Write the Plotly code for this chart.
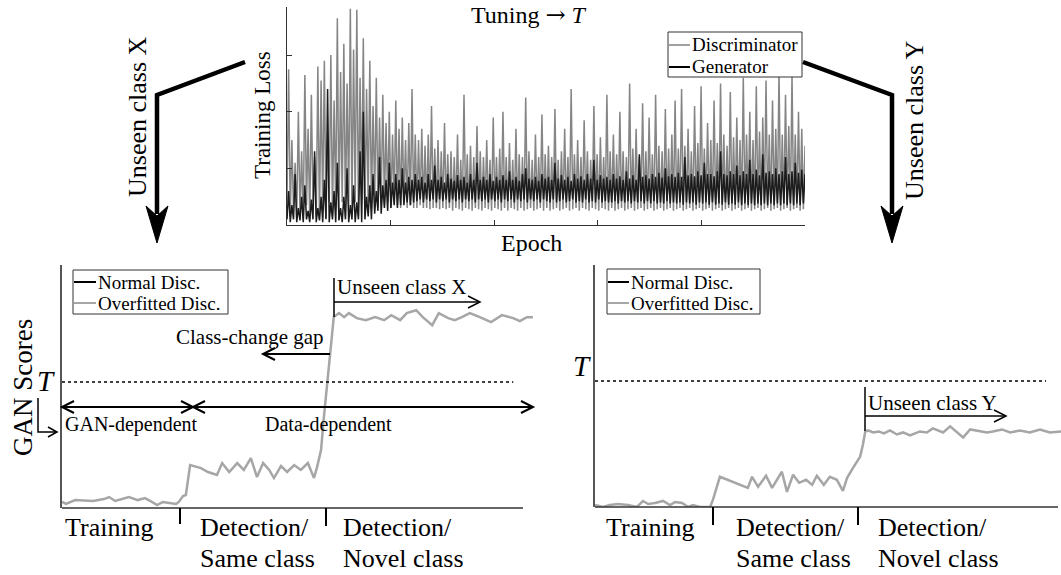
import numpy as np
import plotly.graph_objects as go

W, H = 1061, 575
FONT = "Liberation Serif, Times New Roman, serif"


def px(x):
    return x / W


def py(y):
    return 1 - y / H


# ---------------- data ----------------
# Training loss per logged step (discriminator / generator)
disc_loss = [
    0.4, 2.75, 0.15, 1.5, 0.3, 1.1, 0.12, 2.0, 0.2, 1.3, 0.1, 2.65, 0.35, 1.7, 0.12, 2.3, 0.4, 1.2, 0.15, 2.8,
    0.1, 2.55, 0.3, 2.9, 0.12, 1.6, 0.4, 3.0, 0.15, 2.2, 0.3, 3.65, 0.1, 2.7, 0.4, 3.2, 0.15, 2.5, 0.35, 3.82,
    0.2, 3.1, 0.4, 3.8, 0.15, 2.6, 0.45, 3.3, 0.2, 2.4, 0.4, 2.9, 0.3, 2.1, 0.45, 2.6, 0.3, 1.9, 0.4, 2.3,
    0.35, 1.8, 0.4, 2.0, 0.3, 1.6, 0.4, 2.2, 0.35, 1.7, 0.3, 1.9, 0.4, 1.5, 0.3, 1.8, 0.35, 2.4, 0.3, 1.6,
    0.3, 1.5, 0.35, 1.7, 0.3, 1.4, 0.3, 1.6, 0.28, 2.1, 0.3, 1.35, 0.3, 1.5, 0.28, 1.3, 0.3, 1.8, 0.28, 1.25,
    0.3, 1.3, 0.25, 1.2, 0.3, 1.6, 0.28, 1.15, 0.25, 2.3, 0.3, 1.25, 0.28, 1.4, 0.25, 1.2, 0.3, 1.75, 0.28, 1.3,
    0.25, 1.2, 0.3, 1.5, 0.28, 1.15, 0.25, 1.9, 0.3, 1.2, 0.28, 1.35, 0.25, 2.0, 0.3, 1.2, 0.25, 1.45, 0.3, 1.15,
    0.28, 1.7, 0.25, 1.25, 0.3, 1.2, 0.25, 2.25, 0.28, 1.3, 0.3, 1.15, 0.25, 1.6, 0.28, 1.2, 0.3, 1.95, 0.25, 1.25,
    0.3, 1.4, 0.25, 1.2, 0.28, 2.05, 0.3, 1.15, 0.25, 1.3, 0.28, 1.7, 0.3, 1.2, 0.25, 2.4, 0.28, 1.25, 0.3, 1.5,
    0.25, 1.2, 0.3, 1.85, 0.28, 1.3, 0.25, 1.15, 0.3, 2.1, 0.28, 1.25, 0.25, 1.55, 0.3, 1.2, 0.28, 2.3, 0.25, 1.3,
    0.3, 1.6, 0.25, 1.25, 0.28, 2.0, 0.3, 1.3, 0.25, 1.2, 0.28, 2.5, 0.3, 1.35, 0.25, 1.7, 0.28, 1.2, 0.3, 2.15,
    0.25, 1.3, 0.28, 1.9, 0.3, 1.25, 0.25, 2.3, 0.28, 1.4, 0.3, 1.3, 0.25, 2.05, 0.28, 1.35, 0.3, 1.6, 0.25, 2.2,
    0.28, 1.35, 0.3, 2.4, 0.25, 1.4, 0.28, 1.7, 0.3, 1.3, 0.25, 2.1, 0.28, 1.45, 0.3, 2.45, 0.25, 1.35, 0.28, 1.8,
    0.3, 1.5, 0.25, 2.2, 0.28, 1.45, 0.3, 2.5, 0.25, 1.6, 0.28, 1.4, 0.3, 2.35, 0.25, 1.55, 0.28, 1.9, 0.3, 1.5,
    0.25, 2.6, 0.28, 1.6, 0.3, 2.0, 0.25, 1.5, 0.28, 2.45, 0.3, 1.65, 0.25, 1.9, 0.28, 2.55, 0.3, 1.6, 0.25, 2.2,
    0.28, 1.7, 0.3, 2.7, 0.25, 1.6, 0.28, 2.3, 0.3, 1.75, 0.25, 2.65, 0.28, 1.6, 0.3, 2.0, 0.25, 1.7, 0.28, 1.4,
]
gen_loss = [
    0.1, 0.6, 0.05, 0.35, 0.1, 0.9, 0.05, 0.3, 0.08, 0.5, 0.05, 0.7, 0.1, 0.25, 0.05, 0.45, 0.1, 1.3, 0.05, 0.3,
    0.08, 0.5, 0.05, 0.8, 0.1, 2.4, 0.05, 0.4, 0.1, 0.6, 0.05, 1.1, 0.08, 0.3, 0.05, 0.5, 0.1, 1.0, 0.05, 0.35,
    0.1, 0.7, 0.05, 0.4, 0.1, 1.3, 0.05, 2.0, 0.1, 0.5, 0.15, 0.7, 0.1, 0.9, 0.2, 0.6, 0.25, 1.2, 0.2, 0.7,
    0.3, 0.8, 0.25, 1.1, 0.3, 0.75, 0.35, 0.9, 0.3, 0.8, 0.35, 1.0, 0.35, 0.75, 0.4, 0.85, 0.35, 0.8, 0.4, 0.9,
    0.42, 0.8, 0.45, 0.85, 0.4, 0.75, 0.45, 0.9, 0.42, 0.8, 0.45, 1.05, 0.4, 0.8, 0.45, 0.85, 0.42, 0.75, 0.45, 0.9,
    0.4, 0.82, 0.45, 0.78, 0.42, 0.88, 0.45, 0.8, 0.4, 0.85, 0.45, 0.75, 0.42, 0.9, 0.45, 0.8, 0.4, 1.1, 0.45, 0.8,
    0.42, 0.85, 0.45, 0.8, 0.4, 0.9, 0.45, 0.78, 0.42, 0.85, 0.45, 0.8, 0.4, 0.88, 0.45, 0.8, 0.42, 0.95, 0.45, 0.8,
    0.4, 0.85, 0.45, 0.78, 0.42, 0.9, 0.45, 1.0, 0.4, 0.82, 0.45, 0.8, 0.42, 0.85, 0.45, 0.78, 0.4, 0.9, 0.45, 0.82,
    0.42, 0.85, 0.4, 0.8, 0.45, 1.1, 0.4, 0.82, 0.42, 0.88, 0.45, 0.8, 0.4, 0.85, 0.42, 0.78, 0.45, 0.9, 0.4, 0.82,
    0.42, 0.86, 0.4, 0.8, 0.45, 0.9, 0.4, 0.82, 0.42, 1.15, 0.4, 0.8, 0.45, 0.88, 0.4, 0.82, 0.42, 0.85, 0.4, 0.8,
    0.4, 0.9, 0.42, 0.82, 0.38, 0.86, 0.42, 0.8, 0.4, 0.95, 0.42, 0.82, 0.38, 0.88, 0.42, 0.8, 0.4, 1.25, 0.42, 0.85,
    0.38, 0.88, 0.42, 0.82, 0.38, 0.9, 0.42, 0.85, 0.38, 0.92, 0.4, 0.84, 0.38, 1.0, 0.42, 0.86, 0.38, 0.9, 0.4, 0.85,
    0.38, 0.92, 0.4, 0.85, 0.36, 1.2, 0.4, 0.88, 0.38, 0.9, 0.4, 0.86, 0.36, 0.95, 0.4, 0.88, 0.38, 1.1, 0.4, 0.9,
    0.36, 0.9, 0.4, 0.86, 0.36, 0.95, 0.38, 1.3, 0.36, 0.9, 0.4, 0.88, 0.36, 0.95, 0.38, 0.9, 0.36, 1.05, 0.4, 0.88,
    0.35, 0.95, 0.38, 0.9, 0.35, 1.15, 0.38, 0.9, 0.35, 0.98, 0.38, 0.88, 0.35, 1.25, 0.38, 0.92, 0.35, 0.95, 0.38, 0.9,
    0.35, 1.0, 0.38, 0.9, 0.35, 0.95, 0.38, 1.2, 0.35, 0.9, 0.38, 0.95, 0.35, 1.1, 0.38, 0.92, 0.35, 0.98, 0.38, 0.9,
]
n_epochs = 5000
epochs = np.linspace(0, n_epochs, len(disc_loss))
loss_ticks = [1, 2, 3]
epoch_ticks = [1000, 2000, 3000, 4000, 5000]

# GAN scores of the overfitted discriminator, unseen class X
x_step = [0, 0.85, 2.8, 6.6, 8.9, 10.0, 11.3, 13.2, 14.2, 16.1, 17.6, 18.7,
          20.2, 21.4, 22.5, 24.2, 24.8, 25.7, 26.3, 27.2, 29.5, 31.0, 32.9,
          34.0, 35.5, 37.2, 38.6, 40.1, 41.4, 42.7, 44.0, 45.0, 46.5, 47.8,
          49.3, 50.7, 52.2, 53.5, 54.1, 55.0, 55.6, 56.5, 57.3, 57.7, 58.8,
          59.9, 60.9, 62.6, 64.5, 66.5, 68.4, 69.9, 71.8, 73.2, 75.2, 76.6,
          78.6, 80.0, 82.0, 83.4, 84.9, 86.6, 88.7, 91.1, 93.4, 95.8, 97.2,
          98.7, 100]
x_score = [0.048, 0.032, 0.063, 0.056, 0.071, 0.087, 0.056, 0.079, 0.087,
           0.063, 0.079, 0.056, 0.024, 0.048, 0.040, 0.032, 0.048, 0.095,
           0.103, 0.341, 0.317, 0.286, 0.262, 0.357, 0.286, 0.357, 0.302,
           0.397, 0.246, 0.357, 0.302, 0.238, 0.333, 0.286, 0.341, 0.302,
           0.357, 0.238, 0.317, 0.46, 0.722, 1.04, 1.333, 1.516, 1.548,
           1.516, 1.548, 1.508, 1.492, 1.516, 1.492, 1.532, 1.492, 1.548,
           1.571, 1.516, 1.452, 1.548, 1.508, 1.492, 1.516, 1.548, 1.516,
           1.476, 1.532, 1.508, 1.484, 1.516, 1.516]

# GAN scores of the overfitted discriminator, unseen class Y
y_step = [0, 1.7, 3.2, 4.9, 7.1, 9.0, 10.3, 11.4, 12.9, 14.6, 16.1, 17.2,
          18.7, 20.0, 21.0, 22.5, 24.7, 25.3, 26.8, 32.8, 33.7, 35.0, 36.7,
          38.0, 40.1, 41.2, 42.5, 43.8, 45.3, 46.6, 47.6, 49.1, 50.4, 51.9,
          53.2, 54.1, 55.4, 56.9, 57.5, 58.0, 58.6, 59.7, 60.9, 62.0, 63.3,
          64.8, 66.1, 67.6, 69.7, 71.2, 72.5, 74.7, 76.2, 77.7, 79.0, 80.5,
          82.0, 84.1, 85.4, 87.3, 89.1, 91.2, 93.3, 95.5, 97.6, 100]
y_score = [0.016, 0.0, 0.016, 0.024, 0.016, 0.0, 0.048, 0.024, 0.032, 0.048,
           0.016, 0.04, 0.032, 0.0, 0.016, 0.0, 0.0, 0.056, 0.24, 0.152,
           0.24, 0.16, 0.248, 0.152, 0.28, 0.12, 0.256, 0.192, 0.216, 0.176,
           0.248, 0.176, 0.24, 0.216, 0.128, 0.232, 0.312, 0.4, 0.496, 0.6,
           0.608, 0.592, 0.6, 0.584, 0.608, 0.576, 0.592, 0.568, 0.6, 0.592,
           0.624, 0.592, 0.64, 0.592, 0.552, 0.616, 0.608, 0.592, 0.6, 0.616,
           0.592, 0.608, 0.592, 0.616, 0.592, 0.6]

threshold_T = 1.0
score_max = 1.93

GRAY_LOSS = "#858585"
GEN_BLACK = "#1c1c1c"
OVER_GRAY = "#a6a6a6"
AX = "#333333"

fig = go.Figure()

fig.add_trace(go.Scatter(x=epochs, y=disc_loss, mode="lines", name="Discriminator",
                         line=dict(color=GRAY_LOSS, width=1.5), xaxis="x", yaxis="y",
                         showlegend=False))
fig.add_trace(go.Scatter(x=epochs, y=gen_loss, mode="lines", name="Generator",
                         line=dict(color=GEN_BLACK, width=1.5), xaxis="x", yaxis="y",
                         showlegend=False))
fig.add_trace(go.Scatter(x=x_step, y=x_score, mode="lines", name="Overfitted Disc.",
                         line=dict(color=OVER_GRAY, width=2.5), xaxis="x2", yaxis="y2",
                         showlegend=False))
fig.add_trace(go.Scatter(x=y_step, y=y_score, mode="lines", name="Overfitted Disc.",
                         line=dict(color=OVER_GRAY, width=2.5), xaxis="x3", yaxis="y3",
                         showlegend=False))

plain = dict(showgrid=False, zeroline=False, showticklabels=False)

fig.update_layout(
    width=W, height=H, margin=dict(l=0, r=0, t=0, b=0),
    paper_bgcolor="white", plot_bgcolor="rgba(0,0,0,0)",
    font=dict(family=FONT, color="black"),
    xaxis=dict(domain=[px(287), px(805)], range=[0, n_epochs], anchor="y",
               showline=True, linecolor=AX, linewidth=1, ticks="inside",
               tickvals=epoch_ticks, ticklen=5, tickcolor=AX, **plain),
    yaxis=dict(domain=[py(225), py(7)], range=[0, 3.85], anchor="x",
               showline=True, linecolor=AX, linewidth=1, ticks="inside",
               tickvals=loss_ticks, ticklen=5, tickcolor=AX, **plain),
    xaxis2=dict(domain=[px(62), px(533)], range=[0, 100], anchor="y2",
                showline=False, ticks="", **plain),
    yaxis2=dict(domain=[py(508), py(265)], range=[0, score_max], anchor="x2",
                showline=True, linecolor="#555555", linewidth=1.5, ticks="", **plain),
    xaxis3=dict(domain=[px(595), 1.0], range=[0, 100], anchor="y3",
                showline=False, ticks="", **plain),
    yaxis3=dict(domain=[py(507), py(265)], range=[0, score_max * 242 / 243], anchor="x3",
                showline=True, linecolor="#555555", linewidth=1.5, ticks="", **plain),
)

shapes = []
annotations = []


def seg(x0, y0, x1, y1, width=1.5, color="black", dash=None):
    line = dict(color=color, width=width)
    if dash:
        line["dash"] = dash
    shapes.append(dict(type="line", xref="paper", yref="paper",
                       x0=px(x0), y0=py(y0), x1=px(x1), y1=py(y1), line=line))


def path(points, width=1.5, color="black", fill=None, close=False):
    d = "M " + " L ".join(f"{px(a):.5f},{py(b):.5f}" for a, b in points)
    if close:
        d += " Z"
    s = dict(type="path", xref="paper", yref="paper", path=d,
             line=dict(color=color, width=width))
    if fill:
        s["fillcolor"] = fill
    shapes.append(s)


def vhead(x, y, direction, length=11, half=5.5, width=1.5):
    # open V arrowhead with its tip at (x, y)
    if direction == "right":
        path([(x - length, y - half), (x, y), (x - length, y + half)], width=width)
    elif direction == "left":
        path([(x + length, y - half), (x, y), (x + length, y + half)], width=width)


def text(s, x, y, size, xanchor="left", angle=0):
    annotations.append(dict(text=s, x=px(x), y=py(y), xref="paper", yref="paper",
                            xanchor=xanchor, yanchor="middle", showarrow=False,
                            textangle=angle, font=dict(family=FONT, size=size, color="black")))


def legend_box(x0, y0, x1, y1, entries, sample_x0, sample_x1, text_x, size=19):
    shapes.append(dict(type="rect", xref="paper", yref="paper",
                       x0=px(x0), y0=py(y0), x1=px(x1), y1=py(y1),
                       line=dict(color=AX, width=1), fillcolor="white"))
    for label, color, yy in entries:
        seg(sample_x0, yy, sample_x1, yy, width=2, color=color)
        text(label, text_x, yy, size)


# ---- top panel: training loss ----
text("Tuning <span style=\"font-family:'DejaVu Serif'\">\u2192</span> <i>T</i>", 529, 15, 24,
     xanchor="center")
text("Epoch", 531, 243, 24, xanchor="center")
text("Training Loss", 263, 115, 23, xanchor="center", angle=-90)
legend_box(668, 32, 802, 77,
           [("Discriminator", "#a0a0a0", 45), ("Generator", "black", 67)],
           669, 690, 690)

# thick bent arrows towards the two scenarios
path([(245, 62), (157, 95), (157, 214)], width=4.5)
path([(157, 243), (146, 206), (157, 216), (168, 206)], width=1, fill="black", close=True)
text("Unseen class X", 137, 117, 26, xanchor="center", angle=-90)

path([(803, 62), (892, 95), (892, 214)], width=4.5)
path([(892, 243), (881, 206), (892, 216), (903, 206)], width=1, fill="black", close=True)
text("Unseen class Y", 914, 120, 26, xanchor="center", angle=-90)

# ---- bottom-left panel: unseen class X ----
seg(62, 508, 523, 508, width=1.5, color=AX)
seg(180, 508, 180, 524, width=2)
seg(326, 508, 326, 526, width=2)
shapes.append(dict(type="line", xref="x2", yref="y2", x0=0, x1=95.8,
                   y0=threshold_T, y1=threshold_T,
                   line=dict(color="black", width=1.5, dash="dot")))
legend_box(73, 270, 228, 314,
           [("Normal Disc.", "black", 282), ("Overfitted Disc.", OVER_GRAY, 303)],
           74, 96, 96)
text("GAN Scores", 23, 388, 27, xanchor="center", angle=-90)
text("<i>T</i>", 46, 381, 29, xanchor="center")
path([(38, 398), (38, 432), (56, 432)], width=1.5)
vhead(57, 432, "right", length=9, half=5)

seg(62, 407, 533, 407, width=2)
vhead(62, 407, "left", length=12, half=6, width=2)
vhead(193, 407, "right", length=12, half=6, width=2)
vhead(193, 407, "left", length=12, half=6, width=2)
vhead(533, 407, "right", length=12, half=6, width=2)
text("GAN-dependent", 63, 424, 20)
text("Data-dependent", 263, 424, 20)

text("Class-change gap", 174, 337, 21)
seg(330, 354, 264, 354, width=2)
vhead(263, 354, "left", length=12, half=6, width=2)

seg(334, 278, 334, 317, width=1.5)
seg(334, 302, 479, 302, width=1.5)
vhead(480, 302, "right", length=12, half=6)
text("Unseen class X", 335, 287, 21)

for label, x, y in [("Training", 63, 527), ("Detection/", 198, 527), ("Same class", 198, 558),
                    ("Detection/", 341, 527), ("Novel class", 341, 558)]:
    text(label, x, y, 26)

# ---- bottom-right panel: unseen class Y ----
seg(595, 507, 1058, 507, width=1.5, color=AX)
seg(713, 507, 713, 525, width=2)
seg(858, 507, 858, 525, width=2)
shapes.append(dict(type="line", xref="x3", yref="y3", x0=0, x1=96.8,
                   y0=threshold_T, y1=threshold_T,
                   line=dict(color="black", width=1.5, dash="dot")))
legend_box(607, 269, 760, 314,
           [("Normal Disc.", "black", 282), ("Overfitted Disc.", OVER_GRAY, 303)],
           608, 629, 629)
text("<i>T</i>", 582, 366, 29, xanchor="center")

seg(865, 387, 865, 431, width=1.5)
seg(865, 416, 1005, 416, width=1.5)
vhead(1006, 416, "right", length=12, half=6)
text("Unseen class Y", 866, 403, 21)

for label, x, y in [("Training", 604, 527), ("Detection/", 734, 527), ("Same class", 734, 558),
                    ("Detection/", 876, 527), ("Novel class", 876, 558)]:
    text(label, x, y, 26)

fig.update_layout(shapes=shapes, annotations=annotations)
fig.write_html("out.html")
